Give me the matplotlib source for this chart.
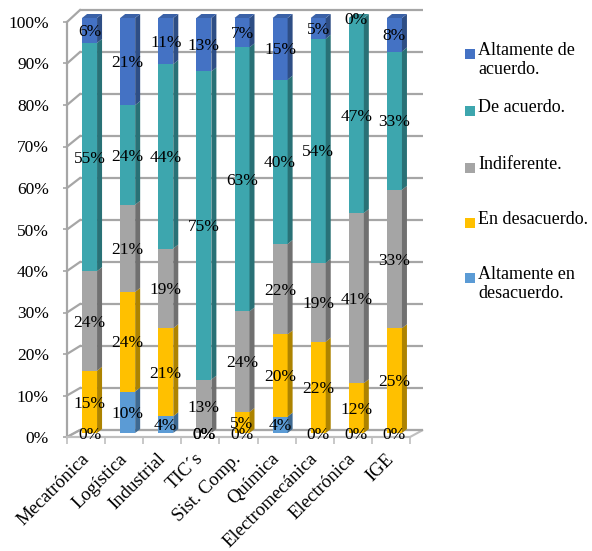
import numpy as np
import matplotlib.pyplot as plt
from matplotlib.patches import Polygon
from matplotlib.colors import to_rgb

plt.rcParams['font.family'] = ['Liberation Serif', 'DejaVu Serif']

carreras = ['Mecatrónica', 'Logística', 'Industrial', 'TIC´s', 'Sist. Comp.',
            'Química', 'Electromecánica', 'Electrónica', 'IGE']

# porcentajes por carrera (de abajo hacia arriba en la pila)
alt_desacuerdo = [0, 10, 4, 0, 0, 4, 0, 0, 0]
desacuerdo = [15, 24, 21, 0, 5, 20, 22, 12, 25]
indiferente = [24, 21, 19, 13, 24, 22, 19, 41, 33]
de_acuerdo = [55, 24, 44, 75, 63, 40, 54, 47, 33]
alt_acuerdo = [6, 21, 11, 13, 7, 15, 5, 0, 8]

series = [alt_desacuerdo, desacuerdo, indiferente, de_acuerdo, alt_acuerdo]
nombres = ['Altamente en\ndesacuerdo.', 'En desacuerdo.', 'Indiferente.',
           'De acuerdo.', 'Altamente de\nacuerdo.']
colores = ['#5B9BD5', '#FFC000', '#A5A5A5', '#3DA6AE', '#4472C4']


def shade(c, f):
    r, g, b = to_rgb(c)
    return (r * f, g * f, b * f)


W, H = 592, 551
fig = plt.figure(figsize=(W / 100, H / 100), dpi=100)
# frente del grafico: x 67..410 px, y 437..22 px
ax = fig.add_axes([67 / W, (H - 437) / H, 343 / W, 415 / H])
ax.set_xlim(-0.5, 8.5)
ax.set_ylim(0, 100)

px_x = 343 / 9.0      # px por categoria
px_y = 415 / 100.0    # px por punto porcentual

DX = 13 / px_x        # profundidad de las paredes


def wall_dy(p):
    return (7 + 5 * p / 100.0) / px_y


grid_col = '#A6A6A6'
n = len(carreras)

# piso
piso = Polygon([(-0.5, 0), (n - 0.5, 0), (n - 0.5 + DX, wall_dy(0)),
                (-0.5 + DX, wall_dy(0))], closed=True, facecolor='white',
               edgecolor='#BFBFBF', lw=1.5, zorder=1, clip_on=False)
ax.add_patch(piso)

# pared del fondo y pared izquierda
for p in range(0, 101, 10):
    yb = p + wall_dy(p)
    ax.plot([-0.5 + DX, n - 0.5 + DX], [yb, yb], color=grid_col, lw=1.6,
            zorder=1.5, clip_on=False, solid_capstyle='butt')
    ax.plot([-0.5, -0.5 + DX], [p, yb], color=grid_col, lw=1.6,
            zorder=1.5, clip_on=False)

# barras 3D
data = np.array(series, dtype=float)
norm = data / data.sum(axis=0) * 100
bw = 15 / px_x
off_x = 3.5 / px_x
off_y = 4 / px_y
bdx = 5 / px_x
bdy = 4 / px_y

for i in range(n):
    base = 0.0
    x0 = i - bw / 2 + off_x
    x1 = x0 + bw
    tope = max(k for k in range(len(series)) if norm[k, i] > 0)
    for k in range(len(series)):
        h = norm[k, i]
        if h > 0:
            y0 = base + off_y
            y1 = base + h + off_y
            ax.bar(x0, h, width=bw, bottom=y0, align='edge', color=colores[k],
                   lw=0, zorder=3, clip_on=False)
            ax.add_patch(Polygon([(x1, y0), (x1 + bdx, y0 + bdy),
                                  (x1 + bdx, y1 + bdy), (x1, y1)],
                                 closed=True, facecolor=shade(colores[k], 0.68),
                                 lw=0, zorder=3, clip_on=False))
            if k == tope:
                ax.add_patch(Polygon([(x0, y1), (x1, y1), (x1 + bdx, y1 + bdy),
                                      (x0 + bdx, y1 + bdy)], closed=True,
                                     facecolor=shade(colores[k], 0.85),
                                     lw=0, zorder=3, clip_on=False))
        base += h

# etiquetas de datos
for i in range(n):
    base = 0.0
    for k in range(len(series)):
        h = norm[k, i]
        ax.text(i + off_x, base + h / 2 + off_y - 0.4, f'{series[k][i]}%',
                ha='center', va='center', fontsize=12.5, color='black',
                zorder=5, clip_on=False)
        base += h

# ejes
for s in ['top', 'right']:
    ax.spines[s].set_visible(False)
ax.spines['left'].set_color(grid_col)
ax.spines['left'].set_linewidth(1.6)
ax.spines['bottom'].set_color('#BFBFBF')
ax.spines['bottom'].set_linewidth(1.5)
ax.set_yticks(range(0, 101, 10))
ax.set_yticklabels([f'{p}%' for p in range(0, 101, 10)], fontsize=12.5)
ax.tick_params(axis='y', length=3, width=1.2, color=grid_col, pad=10)
ax.set_xticks(range(n))
ax.set_xticklabels([])
ax.set_xticks(np.arange(-0.5, n, 1.0), minor=True)
ax.tick_params(axis='x', which='major', length=0)
ax.tick_params(axis='x', which='minor', length=5, width=1.2, color='#BFBFBF')

for i, c in enumerate(carreras):
    ax.text(i - 0.15, -3.2, c, rotation=45, rotation_mode='anchor',
            ha='right', va='top', fontsize=13.5, clip_on=False)

# leyenda
ley_y = [54, 111, 168, 223, 278]
for j, k in enumerate(range(len(series) - 1, -1, -1)):
    yc = ley_y[j]
    fig.patches.append(plt.Rectangle((465 / W, (H - yc - 5) / H), 10 / W, 10 / H,
                                     transform=fig.transFigure,
                                     facecolor=colores[k], lw=0))
    fig.text(478 / W, (H - yc + 12) / H, nombres[k], ha='left', va='top',
             fontsize=13, linespacing=1.15)

fig.savefig('out.png', dpi=100)
